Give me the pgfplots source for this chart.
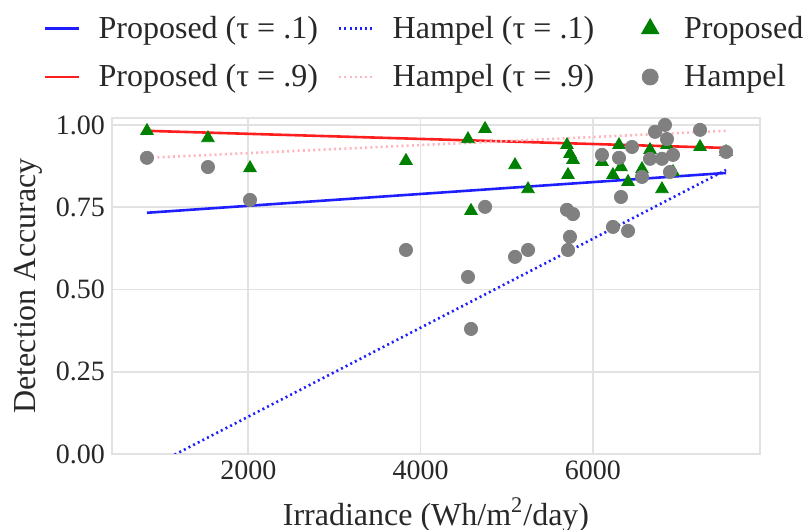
\documentclass[border=0pt]{standalone}
\usepackage{pgfplots}
\pgfplotsset{compat=1.18}
\usepackage{fontspec}
\setmainfont{Liberation Serif}
\definecolor{gridc}{RGB}{226,226,226}
\definecolor{txtc}{RGB}{40,40,40}
\definecolor{mgreen}{RGB}{0,128,0}
\definecolor{mgray}{RGB}{128,128,128}
\definecolor{mblue}{RGB}{30,30,255}
\definecolor{mred}{RGB}{255,30,30}
\definecolor{mpink}{RGB}{255,180,190}
\begin{document}
\begin{tikzpicture}[font=\fontsize{14}{16}\selectfont, text=txtc]
\begin{axis}[
  scale only axis,
  width=324pt, height=168pt,
  xmin=418, xmax=7941, ymin=0, ymax=1.021,
  xtick={2000,4000,6000},
  ytick={0,0.25,0.5,0.75,1.0},
  /pgf/number format/assume math mode=true,
  xticklabel style={/pgf/number format/set thousands separator={}},
  yticklabel style={/pgf/number format/fixed, /pgf/number format/fixed zerofill, /pgf/number format/precision=2},
  major tick length=0pt,
  grid=major,
  major grid style={gridc, line width=0.9pt},
  axis line style={gridc, line width=0.9pt},
  xlabel={Irradiance (Wh/m\textsuperscript{2}/day)},
  ylabel={Detection Accuracy},
  label style={font=\fontsize{16}{18}\selectfont},
  xlabel style={yshift=-2pt},
  ylabel style={yshift=0pt},
  clip=true,
  legend columns=3,
  legend style={draw=none, fill=none, at={(axis description cs:-0.115,1.0)}, anchor=south west, yshift=10pt,
    /tikz/every even column/.append style={column sep=8pt},
    /tikz/every odd column/.append style={column sep=7pt},
    row sep=7.5pt, font=\fontsize{16}{18}\selectfont},
  legend cell align=left,
]
% legend entries (row-wise order)
\addlegendimage{mblue, line width=1.3pt}
\addlegendentry{Proposed (τ = .1)}
\addlegendimage{mblue, line width=1.3pt, dash pattern=on 1pt off 1.6pt}
\addlegendentry{Hampel (τ = .1)}
\addlegendimage{mgreen, legend image code/.code={\path[draw=none, fill=none] (-18pt,0pt) -- (8pt,0pt); \pgfsetfillcolor{mgreen}\pgfsetstrokecolor{mgreen}\pgfsetplotmarksize{5pt}\pgfuseplotmark{triangle*}}}
\addlegendentry{Proposed}
\addlegendimage{mred, line width=1.3pt}
\addlegendentry{Proposed (τ = .9)}
\addlegendimage{mpink, line width=1.3pt, dash pattern=on 1pt off 1.6pt}
\addlegendentry{Hampel (τ = .9)}
\addlegendimage{mgray, legend image code/.code={\path[draw=none, fill=none] (-18pt,0pt) -- (8pt,0pt); \pgfsetfillcolor{mgray}\pgfsetstrokecolor{mgray}\pgfsetplotmarksize{4pt}\pgfuseplotmark{*}}}
\addlegendentry{Hampel}

% quantile lines
\addplot[forget plot, mblue, line width=1.3pt] coordinates {(824,0.733) (7547,0.854)};
\addplot[forget plot, mred, line width=1.3pt] coordinates {(824,0.982) (7547,0.930)};
\addplot[forget plot, mblue, line width=1.3pt, dash pattern=on 1pt off 1.6pt] coordinates {(824,-0.0455) (7547,0.863)};
\addplot[forget plot, mpink, line width=1.3pt, dash pattern=on 1pt off 1.6pt] coordinates {(824,0.900) (7547,0.982)};

% Proposed
\addplot[forget plot, only marks, mark=triangle*, mark size=3.6pt, mgreen] coordinates {
(824,0.982) (1532,0.960) (2020,0.869) (3831,0.891) (4551,0.957) (4586,0.739)
(4749,0.988) (5097,0.878) (5248,0.805) (5700,0.939) (5735,0.912) (5770,0.894)
(5712,0.848) (6106,0.888) (6304,0.939) (6327,0.872) (6234,0.848) (6409,0.827)
(6571,0.866) (6664,0.924) (6803,0.805) (6861,0.939) (6931,0.857) (7245,0.933)
(7547,0.918)
};
% Hampel
\addplot[forget plot, only marks, mark=*, mark size=3.3pt, mgray, draw=mgray] coordinates {
(824,0.900) (1532,0.872) (2020,0.772) (3831,0.620) (4551,0.538) (4586,0.380)
(4749,0.751) (5097,0.599) (5248,0.620) (5700,0.742) (5735,0.660) (5770,0.729)
(5712,0.620) (6106,0.909) (6304,0.900) (6327,0.781) (6234,0.690) (6409,0.678)
(6455,0.933) (6571,0.842) (6664,0.897) (6722,0.979) (6803,0.897) (6838,1.000)
(6861,0.957) (6896,0.857) (6931,0.909) (7245,0.985) (7547,0.918)
};
\end{axis}
\pgfresetboundingbox
\path[use as bounding box] (-56pt,-38pt) rectangle (346pt,227pt);
\end{tikzpicture}
\end{document}
